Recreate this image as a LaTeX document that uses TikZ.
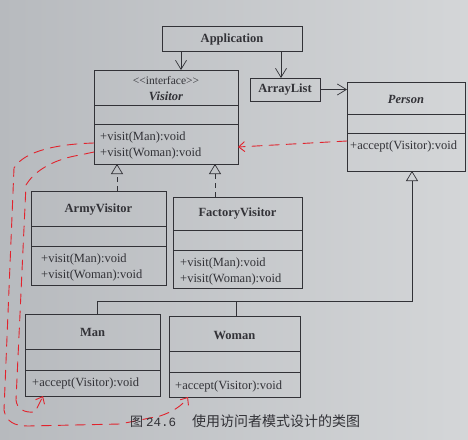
\documentclass[tikz,border=0pt]{standalone}
\usepackage{fontspec}
\setmainfont{Liberation Serif}
\newfontfamily\cjk{Noto Sans CJK SC}
\newfontfamily\monof{Liberation Mono}
\usetikzlibrary{arrows.meta}
\definecolor{paperL}{RGB}{183,186,190}
\definecolor{paperR}{RGB}{212,214,216}
\definecolor{ink}{RGB}{50,50,55}
\definecolor{pen}{RGB}{225,35,45}
\tikzset{
  cls/.style={draw=ink, line width=0.7pt, rectangle, outer sep=0pt, inner sep=0pt},
  sep/.style={draw=ink, line width=0.7pt},
  cname/.style={font=\fontsize{12.5}{14}\selectfont\bfseries, text=ink, inner sep=0pt},
  iname/.style={font=\fontsize{12.5}{14}\selectfont\bfseries\itshape, text=ink, inner sep=0pt},
  meth/.style={font=\fontsize{12.5}{14}\selectfont, text=ink, anchor=west, inner sep=0pt},
  stereo/.style={font=\fontsize{11.5}{13}\selectfont, text=ink, inner sep=0pt},
  assoc/.style={draw=ink, line width=0.7pt, -{Straight Barb[length=9pt,width=11pt,line width=0.7pt]}},
  realize/.style={draw=ink, line width=0.7pt, dash pattern=on 5pt off 4pt, -{Triangle[open,length=10pt,width=12pt,line width=0.7pt]}},
  inherit/.style={draw=ink, line width=0.7pt, -{Triangle[open,length=10pt,width=12pt,line width=0.7pt]}},
  plain/.style={draw=ink, line width=0.7pt},
  redpen/.style={draw=pen, line width=0.9pt, dash pattern=on 10pt off 7pt, line cap=round},
  redtip/.style={-{Straight Barb[length=6pt,width=10pt,line width=0.9pt]}},
}
\begin{document}
\begin{tikzpicture}[x=1pt,y=-1pt]
\shade[left color=paperL, right color=paperR] (0,0) rectangle (468,439);
\useasboundingbox (0,0) rectangle (468,439);

% boxes
\node[cls, minimum width=140pt, minimum height=25pt] (app) at (232,38.5) {};
\node[cname] (appt) at (232,39) {Application};

\node[cls, minimum width=144pt, minimum height=94pt] (visitor) at (166,117) {};
\draw[sep] (visitor.west |- 0,105) -- (visitor.east |- 0,105);
\draw[sep] (visitor.west |- 0,124) -- (visitor.east |- 0,124);
\node[stereo] (vst) at (166,81) {{<}{<}interface{>}{>}};
\node[iname] (vt) at (166,96) {Visitor};
\node[meth] (vm1) at (100,137) {+visit(Man):void};
\node[meth] (vm2) at (100,153) {+visit(Woman):void};

\node[cls, minimum width=70pt, minimum height=23pt] (list) at (285,89.5) {};
\node[cname] (listt) at (285,90) {ArrayList};

\node[cls, minimum width=118pt, minimum height=89pt] (person) at (406,126.5) {};
\draw[sep] (person.west |- 0,114) -- (person.east |- 0,114);
\draw[sep] (person.west |- 0,133) -- (person.east |- 0,133);
\node[iname] (pt) at (406,99) {Person};
\node[meth] (pm) at (350,146) {+accept(Visitor):void};

\node[cls, minimum width=135pt, minimum height=94pt] (army) at (98.5,238) {};
\draw[sep] (army.west |- 0,226) -- (army.east |- 0,226);
\draw[sep] (army.west |- 0,246) -- (army.east |- 0,246);
\node[cname] (at) at (98.5,210) {ArmyVisitor};
\node[meth] (am1) at (41,259) {+visit(Man):void};
\node[meth] (am2) at (41,275) {+visit(Woman):void};

\node[cls, minimum width=129pt, minimum height=91pt] (factory) at (237.5,242.5) {};
\draw[sep] (factory.west |- 0,230) -- (factory.east |- 0,230);
\draw[sep] (factory.west |- 0,250) -- (factory.east |- 0,250);
\node[cname] (ft) at (237.5,214) {FactoryVisitor};
\node[meth] (fm1) at (180,263) {+visit(Man):void};
\node[meth] (fm2) at (180,279) {+visit(Woman):void};

\node[cls, minimum width=135pt, minimum height=82pt] (man) at (92.5,355) {};
\draw[sep] (man.west |- 0,349) -- (man.east |- 0,349);
\draw[sep] (man.west |- 0,370) -- (man.east |- 0,370);
\node[cname] (mt) at (92.5,332) {Man};
\node[meth] (mm) at (32,383) {+accept(Visitor):void};

\node[cls, minimum width=131pt, minimum height=81pt] (woman) at (234.5,356.5) {};
\draw[sep] (woman.west |- 0,351) -- (woman.east |- 0,351);
\draw[sep] (woman.west |- 0,372) -- (woman.east |- 0,372);
\node[cname] (wt) at (234.5,335) {Woman};
\node[meth] (wm) at (175,386) {+accept(Visitor):void};

% connectors
\draw[assoc] (app.south -| 181,0) -- (visitor.north -| 181,0);
\draw[assoc] (app.south -| 281,0) -- (list.north -| 281,0);
\draw[assoc] (list.east) -- (person.west |- list.east);
\draw[realize] (army.north -| 117,0) -- (visitor.south -| 117,0);
\draw[realize] (factory.north -| 215,0) -- (visitor.south -| 215,0);
\coordinate (jn) at (412,301);
\draw[inherit] (man.north -| 97,0) -- (97,301) -- (jn) -- (person.south -| jn);
\draw[plain] (woman.north -| 236,0) -- (236,301);

% red hand-drawn annotations
\draw[redpen, redtip] (person.west |- 0,141) -- (visitor.east |- 0,147);
\draw[redpen, redtip] (visitor.west |- 0,143) .. controls (60,144) and (25,150) .. (14,168)
  -- (4,410) .. controls (6,422) and (15,426) .. (28,426) -- (120,424) -- (160,416)
  .. controls (172,412) and (182,406) .. (woman.south -| 188,0);
\draw[redpen, redtip] (visitor.west |- 0,152) -- (80,155) .. controls (55,159) and (35,170) .. (26,185)
  -- (16,400) .. controls (17,409) and (24,413) .. (35,412) -- (man.south -| 43,0);

% caption
\node[anchor=west, inner sep=0pt, text=ink] (cap) at (130,421)
  {{\cjk\fontsize{13}{15}\selectfont 图}\hspace{3pt}{\monof\fontsize{12.5}{14}\selectfont 24.6}\hspace{16pt}{\cjk\fontsize{14}{16}\selectfont 使用访问者模式设计的类图}};
\end{tikzpicture}
\end{document}
